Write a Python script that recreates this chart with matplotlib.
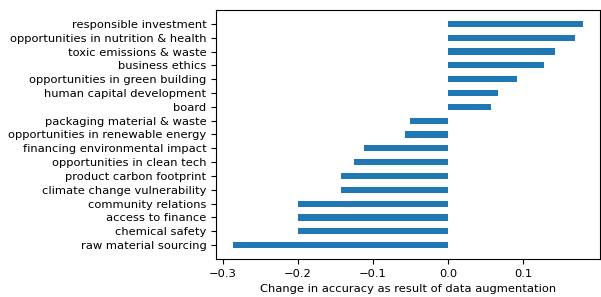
import matplotlib
matplotlib.use('Agg')
import matplotlib.pyplot as plt

# ESG topics, bottom to top as drawn
topics = ['raw material sourcing', 'chemical safety', 'access to finance',
          'community relations', 'climate change vulnerability',
          'product carbon footprint', 'opportunities in clean tech',
          'financing environmental impact', 'opportunities in renewable energy',
          'packaging material & waste', 'board', 'human capital development',
          'opportunities in green building', 'business ethics',
          'toxic emissions & waste', 'opportunities in nutrition & health',
          'responsible investment']
change = [-0.286, -0.2, -0.2, -0.2, -0.143, -0.143, -0.126, -0.112, -0.058,
          -0.051, 0.057, 0.067, 0.092, 0.128, 0.143, 0.169, 0.179]

plt.rcParams['font.size'] = 8.25
fig = plt.figure(figsize=(6.01, 2.97), dpi=100)
ax = fig.add_axes([0.3594, 0.128, 0.6389, 0.8383])

ax.barh(range(len(topics)), change, height=0.45, color='#1f77b4')
ax.set_yticks(range(len(topics)))
ax.set_yticklabels(topics)
ax.set_ylim(-1, 17)
ax.set_xticks([-0.3, -0.2, -0.1, 0.0, 0.1])
ax.set_xlabel('Change in accuracy as result of data augmentation')

fig.savefig('out.png', dpi=100)
